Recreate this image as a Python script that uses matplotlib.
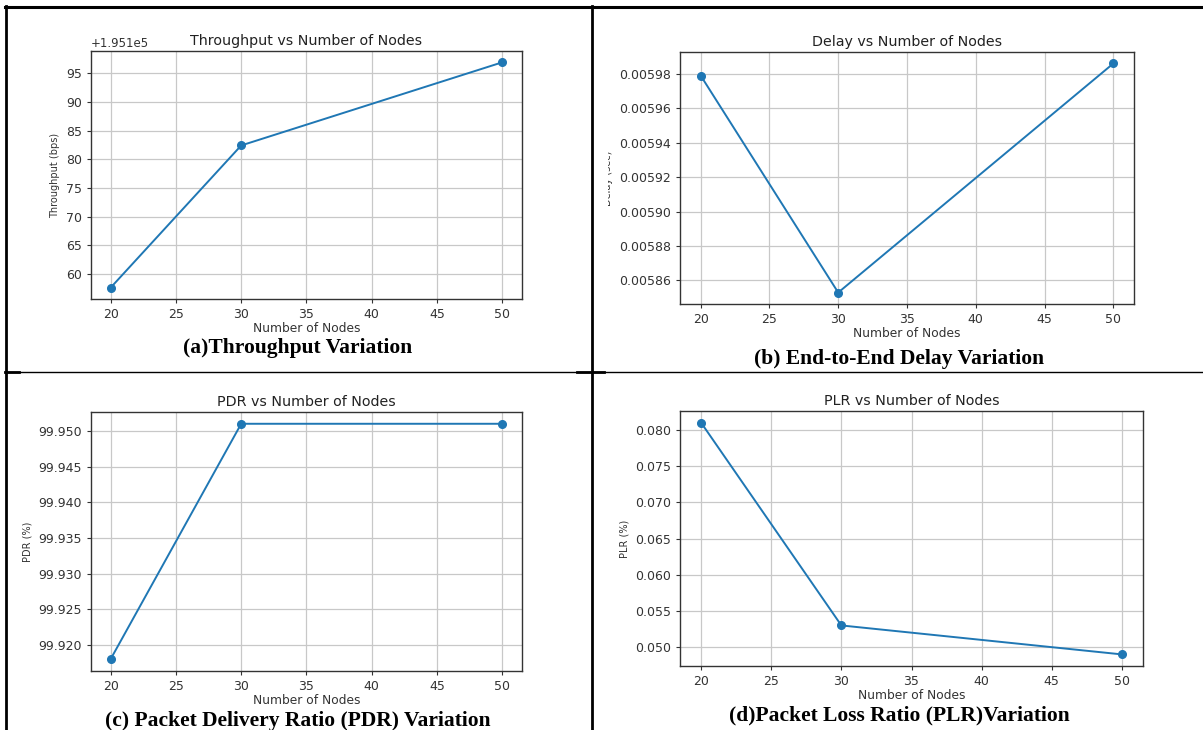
#!/usr/bin/env python3

import matplotlib
matplotlib.use("Agg")
import matplotlib.pyplot as plt
from matplotlib.lines import Line2D
from matplotlib.patches import Rectangle

W, H = 1203, 730

nodes = [20, 30, 50]
throughput = [195157.6, 195182.4, 195196.9]
delay = [0.005979, 0.005853, 0.005986]
pdr = [99.918, 99.951, 99.951]
plr = [0.081, 0.053, 0.049]

titles = [
    "Throughput vs Number of Nodes",
    "Delay vs Number of Nodes",
    "PDR vs Number of Nodes",
    "PLR vs Number of Nodes",
]
ylabels = ["Throughput (bps)", "Delay (sec)", "PDR (%)", "PLR (%)"]
captions = [
    "(a)Throughput Variation",
    "(b) End-to-End Delay Variation",
    "(c) Packet Delivery Ratio (PDR) Variation",
    "(d)Packet Loss Ratio (PLR)Variation",
]


def px_box(left, top, right, bottom):
    return [left / W, 1 - bottom / H, (right - left) / W, (bottom - top) / H]


def draw_panel(fig, box, values, title, ylabel):
    ax = fig.add_axes(px_box(*box))
    ax.plot(nodes, values, marker="o", markersize=5.5, color="#1f77b4", linewidth=1.4)
    ax.set_title(title, fontsize=10.3, color="#222222", pad=4)
    ax.set_xlabel("Number of Nodes", fontsize=8.8, color="#333333", labelpad=1)
    ax.set_ylabel(ylabel, fontsize=7, color="#333333")
    ax.tick_params(labelsize=9, colors="#333333", length=3)
    ax.yaxis.get_offset_text().set_fontsize(8.5)
    ax.grid(True, color="#c8c8c8", linewidth=0.9)
    for sp in ax.spines.values():
        sp.set_color("#333333")
        sp.set_linewidth(1.0)
    return ax


def fig_line(fig, x0, y0, x1, y1, lw):
    fig.add_artist(Line2D([x0 / W, x1 / W], [1 - y0 / H, 1 - y1 / H],
                          transform=fig.transFigure, color="black",
                          linewidth=lw, zorder=10))


def main():
    fig = plt.figure(figsize=(W / 100, H / 100), dpi=100)

    boxes = [
        (91, 51, 522, 299),
        (680, 52, 1134, 304),
        (91, 412, 522, 671),
        (680, 411, 1143, 666),
    ]
    series = [throughput, delay, pdr, plr]
    for box, values, title, ylabel in zip(boxes, series, titles, ylabels):
        draw_panel(fig, box, values, title, ylabel)

    # the delay y-label is cropped in the source document
    fig.add_artist(Rectangle((593 / W, 1 - 300 / H), 15 / W, 250 / H,
                             transform=fig.transFigure, facecolor="white",
                             edgecolor="none", zorder=5))

    caption_pos = [(298, 348), (899, 359), (298, 721), (899, 715)]
    for (cx, cy), text in zip(caption_pos, captions):
        fig.text(cx / W, 1 - cy / H, text, ha="center", va="center",
                 fontsize=15.5, fontweight="bold", family="Liberation Serif")

    # table borders
    fig_line(fig, 5, 6.5, W, 6.5, 2.2)
    fig_line(fig, 5.5, 6, 5.5, H, 2.0)
    fig_line(fig, 592, 6, 592, H, 2.0)
    fig_line(fig, 5, 371.5, W, 371.5, 1.0)
    fig_line(fig, 5, 371.5, 19, 371.5, 2.0)
    fig_line(fig, 577, 371.5, 604, 371.5, 2.0)

    fig.savefig("out.png", dpi=100)
    plt.close(fig)


if __name__ == "__main__":
    main()
